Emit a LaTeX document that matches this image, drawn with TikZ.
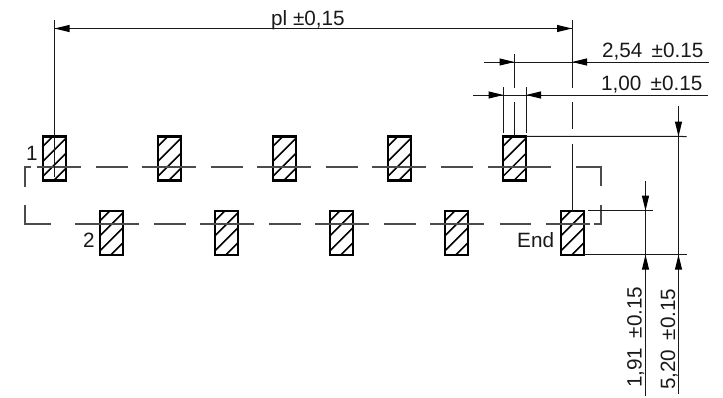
\documentclass[tikz,border=0pt]{standalone}
\usepackage{fontspec}
\setmainfont{Liberation Sans}
\usetikzlibrary{arrows.meta}
\tikzset{
  pad/.style={minimum width=23pt, minimum height=44pt, inner sep=0pt, outer sep=0pt},
  pad edge/.style={line width=2.4pt, black},
  hatch line/.style={line width=1.5pt, black},
  thin line/.style={line width=1pt, black!90},
  centre line/.style={line width=1.1pt, black!70},
  tip/.style={-{Triangle[length=15pt,width=7pt]}, line width=1pt},
  dim text/.style={inner sep=0pt, font=\fontsize{20.7}{22}\selectfont, black!90},
}
\begin{document}
\begin{tikzpicture}[x=1pt,y=-1pt]
  \useasboundingbox (0,0) rectangle (723,397);

  % pads
  \foreach \n/\x/\y in {top1/54.5/158.3,top2/169.5/158.3,top3/284.5/158.3,top4/399.5/158.3,top5/514.5/158.3,
                        bot1/111.5/232.7,bot2/226.5/232.7,bot3/341.5/232.7,bot4/456.5/232.7,bot5/572.5/232.7}
  {
    \node[pad] (\n) at (\x,\y) {};
    \begin{scope}
      \clip (\n.north west) rectangle (\n.south east);
      \foreach \d in {10,25,40,55}
        \draw[hatch line] ([yshift=-\d pt]\n.north west) -- ++(60pt,60pt);
    \end{scope}
    \draw[pad edge] (\n.north west) rectangle (\n.south east);
  }

  % centre lines
  \draw[centre line] (25,186.5) -- (25,167) -- (31,167);
  \draw[centre line] (37,167) -- (81,167);
  \foreach \x in {96,211,326}
    \draw[centre line] (\x,167) -- ++(31.5,0);
  \foreach \x in {142,257,372}
    \draw[centre line] (\x,167) -- ++(54,0);
  \draw[centre line] (441,167) -- (472.5,167);
  \draw[centre line] (488,167) -- (551,167);
  \draw[centre line] (576,167) -- (601,167) -- (601,186);
  \draw[centre line] (25,205) -- (25,224) -- (51,224);
  \draw[centre line] (75,224) -- (139,224);
  \foreach \x in {154,269,384,499.5}
    \draw[centre line] (\x,224) -- ++(31.5,0);
  \foreach \x in {200,315,430}
    \draw[centre line] (\x,224) -- ++(54,0);
  \draw[centre line] (546,224) -- (590,224);
  \draw[centre line] (594,224) -- (601,224) -- (601,205);

  % extension lines
  \draw[thin line] (54.5,20) -- (54.5,177);
  \draw[thin line] (572,20) -- (572,88);
  \draw[thin line] (572,102) -- (572,129);
  \draw[thin line] (572,144) -- (572,210.7);
  \draw[thin line] (514.5,54) -- (514.5,88);
  \draw[thin line] (514.5,102) -- (top5.north);
  \draw[thin line] (503.5,87) -- (503.5,132.5);
  \draw[thin line] (526,87) -- (526,132.5);
  \draw[thin line] (top5.north east) -- (686.5,136.5);
  \draw[thin line] (588,210.7) -- (653,210.7);
  \draw[thin line] (bot5.south east) -- (686.5,254.7);

  % dimensions
  \draw[thin line] (54.5,28.5) -- (572,28.5);
  \draw[tip] (70,28.5) -- (54.5,28.5);
  \draw[tip] (556,28.5) -- (572,28.5);
  \node[dim text, anchor=base west] (pl) at (271,25) {pl ±0,15};

  \draw[thin line] (484,62) -- (709,62);
  \draw[tip] (499,62) -- (514.5,62);
  \draw[tip] (588,62) -- (572,62);
  \node[dim text, anchor=base west] (pitch) at (602,57.5) {2,54 \,±0.15};

  \draw[thin line] (473,95) -- (708,95);
  \draw[tip] (488,95) -- (503.5,95);
  \draw[tip] (541,95) -- (526,95);
  \node[dim text, anchor=base west] (width) at (601,90.7) {1,00 \,±0.15};

  \draw[thin line] (678.5,106) -- (678.5,394);
  \draw[tip] (678.5,121) -- (678.5,136.5);
  \draw[tip] (678.5,270) -- (678.5,254.7);
  \node[dim text, anchor=base west, rotate=90] (total) at (675,390) {5,20 \,±0.15};

  \draw[thin line] (645.5,181) -- (645.5,396);
  \draw[tip] (645.5,195) -- (645.5,210.7);
  \draw[tip] (645.5,270) -- (645.5,254.7);
  \node[dim text, anchor=base west, rotate=90] (row) at (641.7,388) {1,91 \,±0.15};

  % labels
  \node[dim text, anchor=base west] (first) at (26,160) {1};
  \node[dim text, anchor=base west] (second) at (83,247) {2};
  \node[dim text, anchor=base west] (last) at (517,247) {End};
\end{tikzpicture}
\end{document}
